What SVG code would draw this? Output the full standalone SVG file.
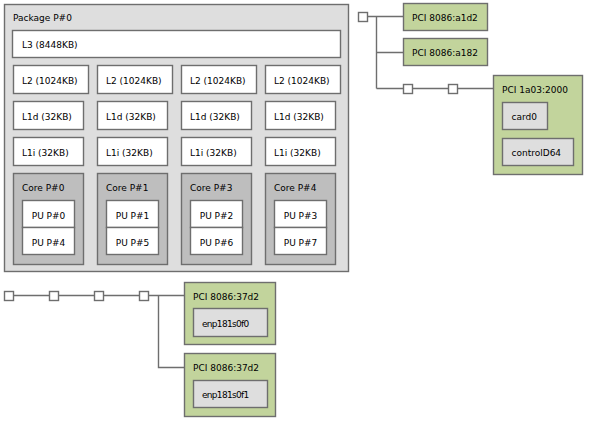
<svg xmlns="http://www.w3.org/2000/svg" width="589" height="425" viewBox="0 0 589 425">
<style>
rect{stroke:#6e6e6e;stroke-width:1.4}
.pkg{fill:#dedede}
.core{fill:#bebebe}
.w{fill:#ffffff}
.pci{fill:#c2d49c}
.os{fill:#dedede}
.br{fill:#ffffff}
text{font-family:"DejaVu Sans",sans-serif;font-size:9px;fill:#000}
.c{text-anchor:middle}
.n{letter-spacing:-0.7px}
#connectors path{fill:none;stroke:#6e6e6e;stroke-width:1.4}
</style>
<g id="package">
<rect class="pkg" x="4.5" y="4.5" width="344" height="267"/>
<text x="13" y="21">Package P#0</text>
</g>
<g id="l3"><rect class="w" x="12.5" y="30.5" width="328" height="27"/><text x="22" y="48">L3 (8448KB)</text></g>
<g id="l2_0"><rect class="w" x="13.5" y="65.5" width="75" height="28"/><text x="22" y="83.5">L2 (1024KB)</text></g>
<g id="l2_1"><rect class="w" x="97.5" y="65.5" width="75" height="28"/><text x="106" y="83.5">L2 (1024KB)</text></g>
<g id="l2_2"><rect class="w" x="181.5" y="65.5" width="75" height="28"/><text x="190" y="83.5">L2 (1024KB)</text></g>
<g id="l2_3"><rect class="w" x="265.5" y="65.5" width="75" height="28"/><text x="274" y="83.5">L2 (1024KB)</text></g>
<g id="l1d_0"><rect class="w" x="13.5" y="101.5" width="70" height="28"/><text x="22" y="119.5">L1d (32KB)</text></g>
<g id="l1d_1"><rect class="w" x="97.5" y="101.5" width="70" height="28"/><text x="106" y="119.5">L1d (32KB)</text></g>
<g id="l1d_2"><rect class="w" x="181.5" y="101.5" width="70" height="28"/><text x="190" y="119.5">L1d (32KB)</text></g>
<g id="l1d_3"><rect class="w" x="265.5" y="101.5" width="70" height="28"/><text x="274" y="119.5">L1d (32KB)</text></g>
<g id="l1i_0"><rect class="w" x="13.5" y="137.5" width="70" height="28"/><text x="22" y="155.5">L1i (32KB)</text></g>
<g id="l1i_1"><rect class="w" x="97.5" y="137.5" width="70" height="28"/><text x="106" y="155.5">L1i (32KB)</text></g>
<g id="l1i_2"><rect class="w" x="181.5" y="137.5" width="70" height="28"/><text x="190" y="155.5">L1i (32KB)</text></g>
<g id="l1i_3"><rect class="w" x="265.5" y="137.5" width="70" height="28"/><text x="274" y="155.5">L1i (32KB)</text></g>
<g id="core0"><rect class="core" x="13.5" y="173.5" width="70" height="91"/><text x="22" y="191">Core P#0</text></g>
<g id="core1"><rect class="core" x="97.5" y="173.5" width="70" height="91"/><text x="106" y="191">Core P#1</text></g>
<g id="core3"><rect class="core" x="181.5" y="173.5" width="70" height="91"/><text x="190" y="191">Core P#3</text></g>
<g id="core4"><rect class="core" x="265.5" y="173.5" width="70" height="91"/><text x="274" y="191">Core P#4</text></g>
<g id="pu0"><rect class="w" x="22.5" y="200.5" width="52" height="27"/><text class="c" x="48.5" y="218.5">PU P#0</text></g>
<g id="pu4"><rect class="w" x="22.5" y="227.5" width="52" height="27"/><text class="c" x="48.5" y="245.5">PU P#4</text></g>
<g id="pu1"><rect class="w" x="106.5" y="200.5" width="52" height="27"/><text class="c" x="132.5" y="218.5">PU P#1</text></g>
<g id="pu5"><rect class="w" x="106.5" y="227.5" width="52" height="27"/><text class="c" x="132.5" y="245.5">PU P#5</text></g>
<g id="pu2"><rect class="w" x="190.5" y="200.5" width="52" height="27"/><text class="c" x="216.5" y="218.5">PU P#2</text></g>
<g id="pu6"><rect class="w" x="190.5" y="227.5" width="52" height="27"/><text class="c" x="216.5" y="245.5">PU P#6</text></g>
<g id="pu3"><rect class="w" x="274.5" y="200.5" width="52" height="27"/><text class="c" x="300.5" y="218.5">PU P#3</text></g>
<g id="pu7"><rect class="w" x="274.5" y="227.5" width="52" height="27"/><text class="c" x="300.5" y="245.5">PU P#7</text></g>
<g id="connectors">
<path d="M367 16.5H403 M376.5 16.5V88.5 M376.5 52.5H403 M376.5 88.5H403 M412 88.5H448 M457 88.5H493"/>
<path d="M13 295.5H49 M58 295.5H94 M103 295.5H139 M148 295.5H184 M158.5 295.5V367.5H184"/>
</g>
<g id="bridge0"><rect class="br" x="358.5" y="12.5" width="9" height="9"/></g>
<g id="bridge1"><rect class="br" x="403.5" y="84.5" width="9" height="9"/></g>
<g id="bridge2"><rect class="br" x="448.5" y="84.5" width="9" height="9"/></g>
<g id="bridge3"><rect class="br" x="4.5" y="291.5" width="9" height="9"/></g>
<g id="bridge4"><rect class="br" x="49.5" y="291.5" width="9" height="9"/></g>
<g id="bridge5"><rect class="br" x="94.5" y="291.5" width="9" height="9"/></g>
<g id="bridge6"><rect class="br" x="139.5" y="291.5" width="9" height="9"/></g>
<g id="pci_a1d2"><rect class="pci" x="403.5" y="3.5" width="84" height="27"/><text x="412" y="21">PCI 8086:a1d2</text></g>
<g id="pci_a182"><rect class="pci" x="403.5" y="38.5" width="84" height="27"/><text x="412" y="56">PCI 8086:a182</text></g>
<g id="pci_1a03"><rect class="pci" x="493.5" y="75.5" width="89" height="99"/><text x="502" y="93">PCI 1a03:2000</text></g>
<g id="card0"><rect class="os" x="502.5" y="102.5" width="45" height="27"/><text x="511.5" y="120">card0</text></g>
<g id="controlD64"><rect class="os" x="502.5" y="138.5" width="71" height="27"/><text x="511.5" y="156">controlD64</text></g>
<g id="pci_37d2_0"><rect class="pci" x="184.5" y="282.5" width="91" height="62"/><text x="193" y="299.5">PCI 8086:37d2</text></g>
<g id="enp181s0f0"><rect class="os" x="193.5" y="308.5" width="74" height="28"/><text class="n" x="202" y="326.5">enp181s0f0</text></g>
<g id="pci_37d2_1"><rect class="pci" x="184.5" y="353.5" width="91" height="63"/><text x="193" y="371">PCI 8086:37d2</text></g>
<g id="enp181s0f1"><rect class="os" x="193.5" y="380.5" width="74" height="27"/><text class="n" x="202" y="398">enp181s0f1</text></g>
</svg>
